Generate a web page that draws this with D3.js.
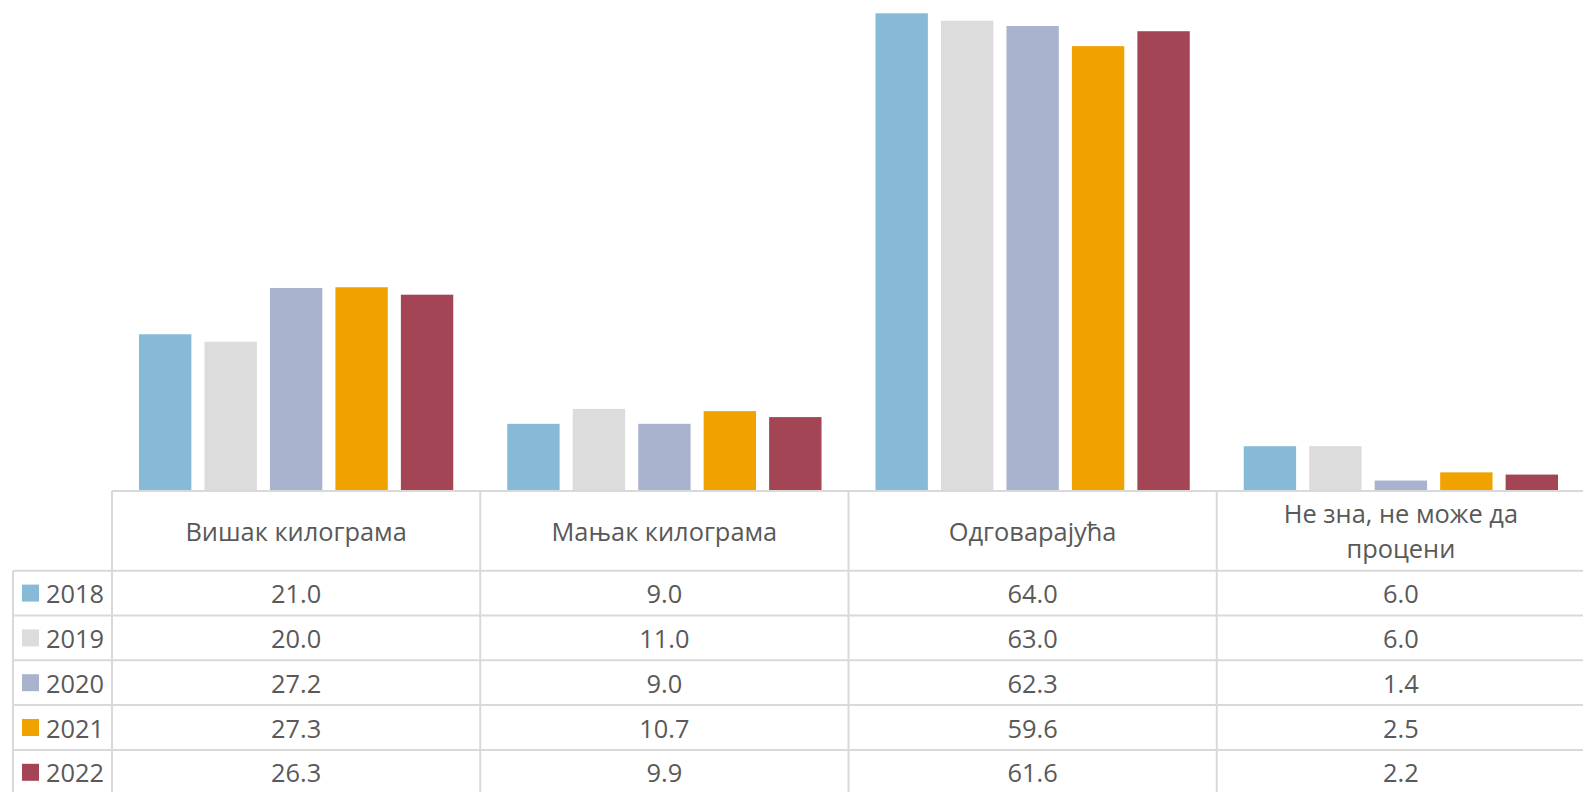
<!DOCTYPE html>
<html>
<head>
<meta charset="utf-8">
<script src="https://cdn.jsdelivr.net/npm/d3@7"></script>
<style>
  html, body { margin: 0; padding: 0; background: #fff; }
  svg { display: block; }
  text { font-family: "Open Sans", "Noto Sans", sans-serif; fill: #595959; }
</style>
</head>
<body>
<svg id="chart" width="1583" height="792"></svg>
<script>
const categories = ["Вишак килограма", "Мањак килограма", "Одговарајућа", "Не зна, не може да процени"];
const categoryLines = [["Вишак килограма"], ["Мањак килограма"], ["Одговарајућа"], ["Не зна, не може да", "процени"]];
const years = ["2018", "2019", "2020", "2021", "2022"];
const colors = ["#86BAD6", "#DCDCDC", "#A9B3CE", "#F0A300", "#A44555"];
const v2018 = [21.0, 9.0, 64.0, 6.0];
const v2019 = [20.0, 11.0, 63.0, 6.0];
const v2020 = [27.2, 9.0, 62.3, 1.4];
const v2021 = [27.3, 10.7, 59.6, 2.5];
const v2022 = [26.3, 9.9, 61.6, 2.2];
const series = [v2018, v2019, v2020, v2021, v2022];

const svg = d3.select("#chart");
const W = 1583, H = 792;
const plotLeft = 112, plotRight = 1585;
const baseY = 491;
const headerH = 79.7;
const rowH = 44.8;
const tableLeft = 13;
const gridColor = "#D9D9D9";

const x = d3.scaleBand().domain(categories).range([plotLeft, plotRight]).padding(0);
const bw = x.bandwidth();
const outer = bw * 0.0733;
const xi = d3.scaleBand().domain(years).range([outer, bw - outer]).paddingInner(0.2).paddingOuter(0);
const y = d3.scaleLinear().domain([0, 64]).range([baseY, 13.3]);

// bars
const bars = svg.append("g");
series.forEach((vals, si) => {
  bars.selectAll(null).data(vals).enter().append("rect")
    .attr("x", (d, i) => x(categories[i]) + xi(years[si]))
    .attr("width", xi.bandwidth())
    .attr("y", d => y(d))
    .attr("height", d => y(0) - y(d))
    .attr("fill", colors[si]);
});

// table grid
const g = svg.append("g").attr("stroke", gridColor).attr("stroke-width", 2);
g.append("line").attr("x1", plotLeft).attr("x2", W).attr("y1", baseY).attr("y2", baseY);
const rowTop = baseY + headerH;
for (let r = 0; r < years.length; r++) {
  const yy = rowTop + r * rowH;
  g.append("line").attr("x1", tableLeft).attr("x2", W).attr("y1", yy).attr("y2", yy);
}
g.append("line").attr("x1", tableLeft).attr("x2", tableLeft).attr("y1", rowTop).attr("y2", H);
categories.forEach(c => {
  g.append("line").attr("x1", x(c)).attr("x2", x(c)).attr("y1", baseY).attr("y2", H);
});

// header text
const fs = 25.4;
categories.forEach((c, i) => {
  const lines = categoryLines[i];
  const cx = x(c) + bw / 2;
  const cy = baseY + headerH / 2;
  const lh = 35;
  lines.forEach((ln, k) => {
    svg.append("text")
      .attr("x", cx)
      .attr("y", cy + (k - (lines.length - 1) / 2) * lh)
      .attr("text-anchor", "middle")
      .attr("dominant-baseline", "central")
      .attr("font-size", fs)
      .text(ln);
  });
});

// rows
years.forEach((yr, r) => {
  const cy = rowTop + r * rowH + rowH / 2;
  svg.append("rect").attr("x", 22).attr("y", cy - 8.5).attr("width", 17).attr("height", 17).attr("fill", colors[r]);
  svg.append("text").attr("x", 46).attr("y", cy).attr("dominant-baseline", "central").attr("font-size", fs).text(yr);
  series[r].forEach((v, i) => {
    svg.append("text")
      .attr("x", x(categories[i]) + bw / 2)
      .attr("y", cy)
      .attr("text-anchor", "middle")
      .attr("dominant-baseline", "central")
      .attr("font-size", fs)
      .text(d3.format(".1f")(v));
  });
});
</script>
</body>
</html>
